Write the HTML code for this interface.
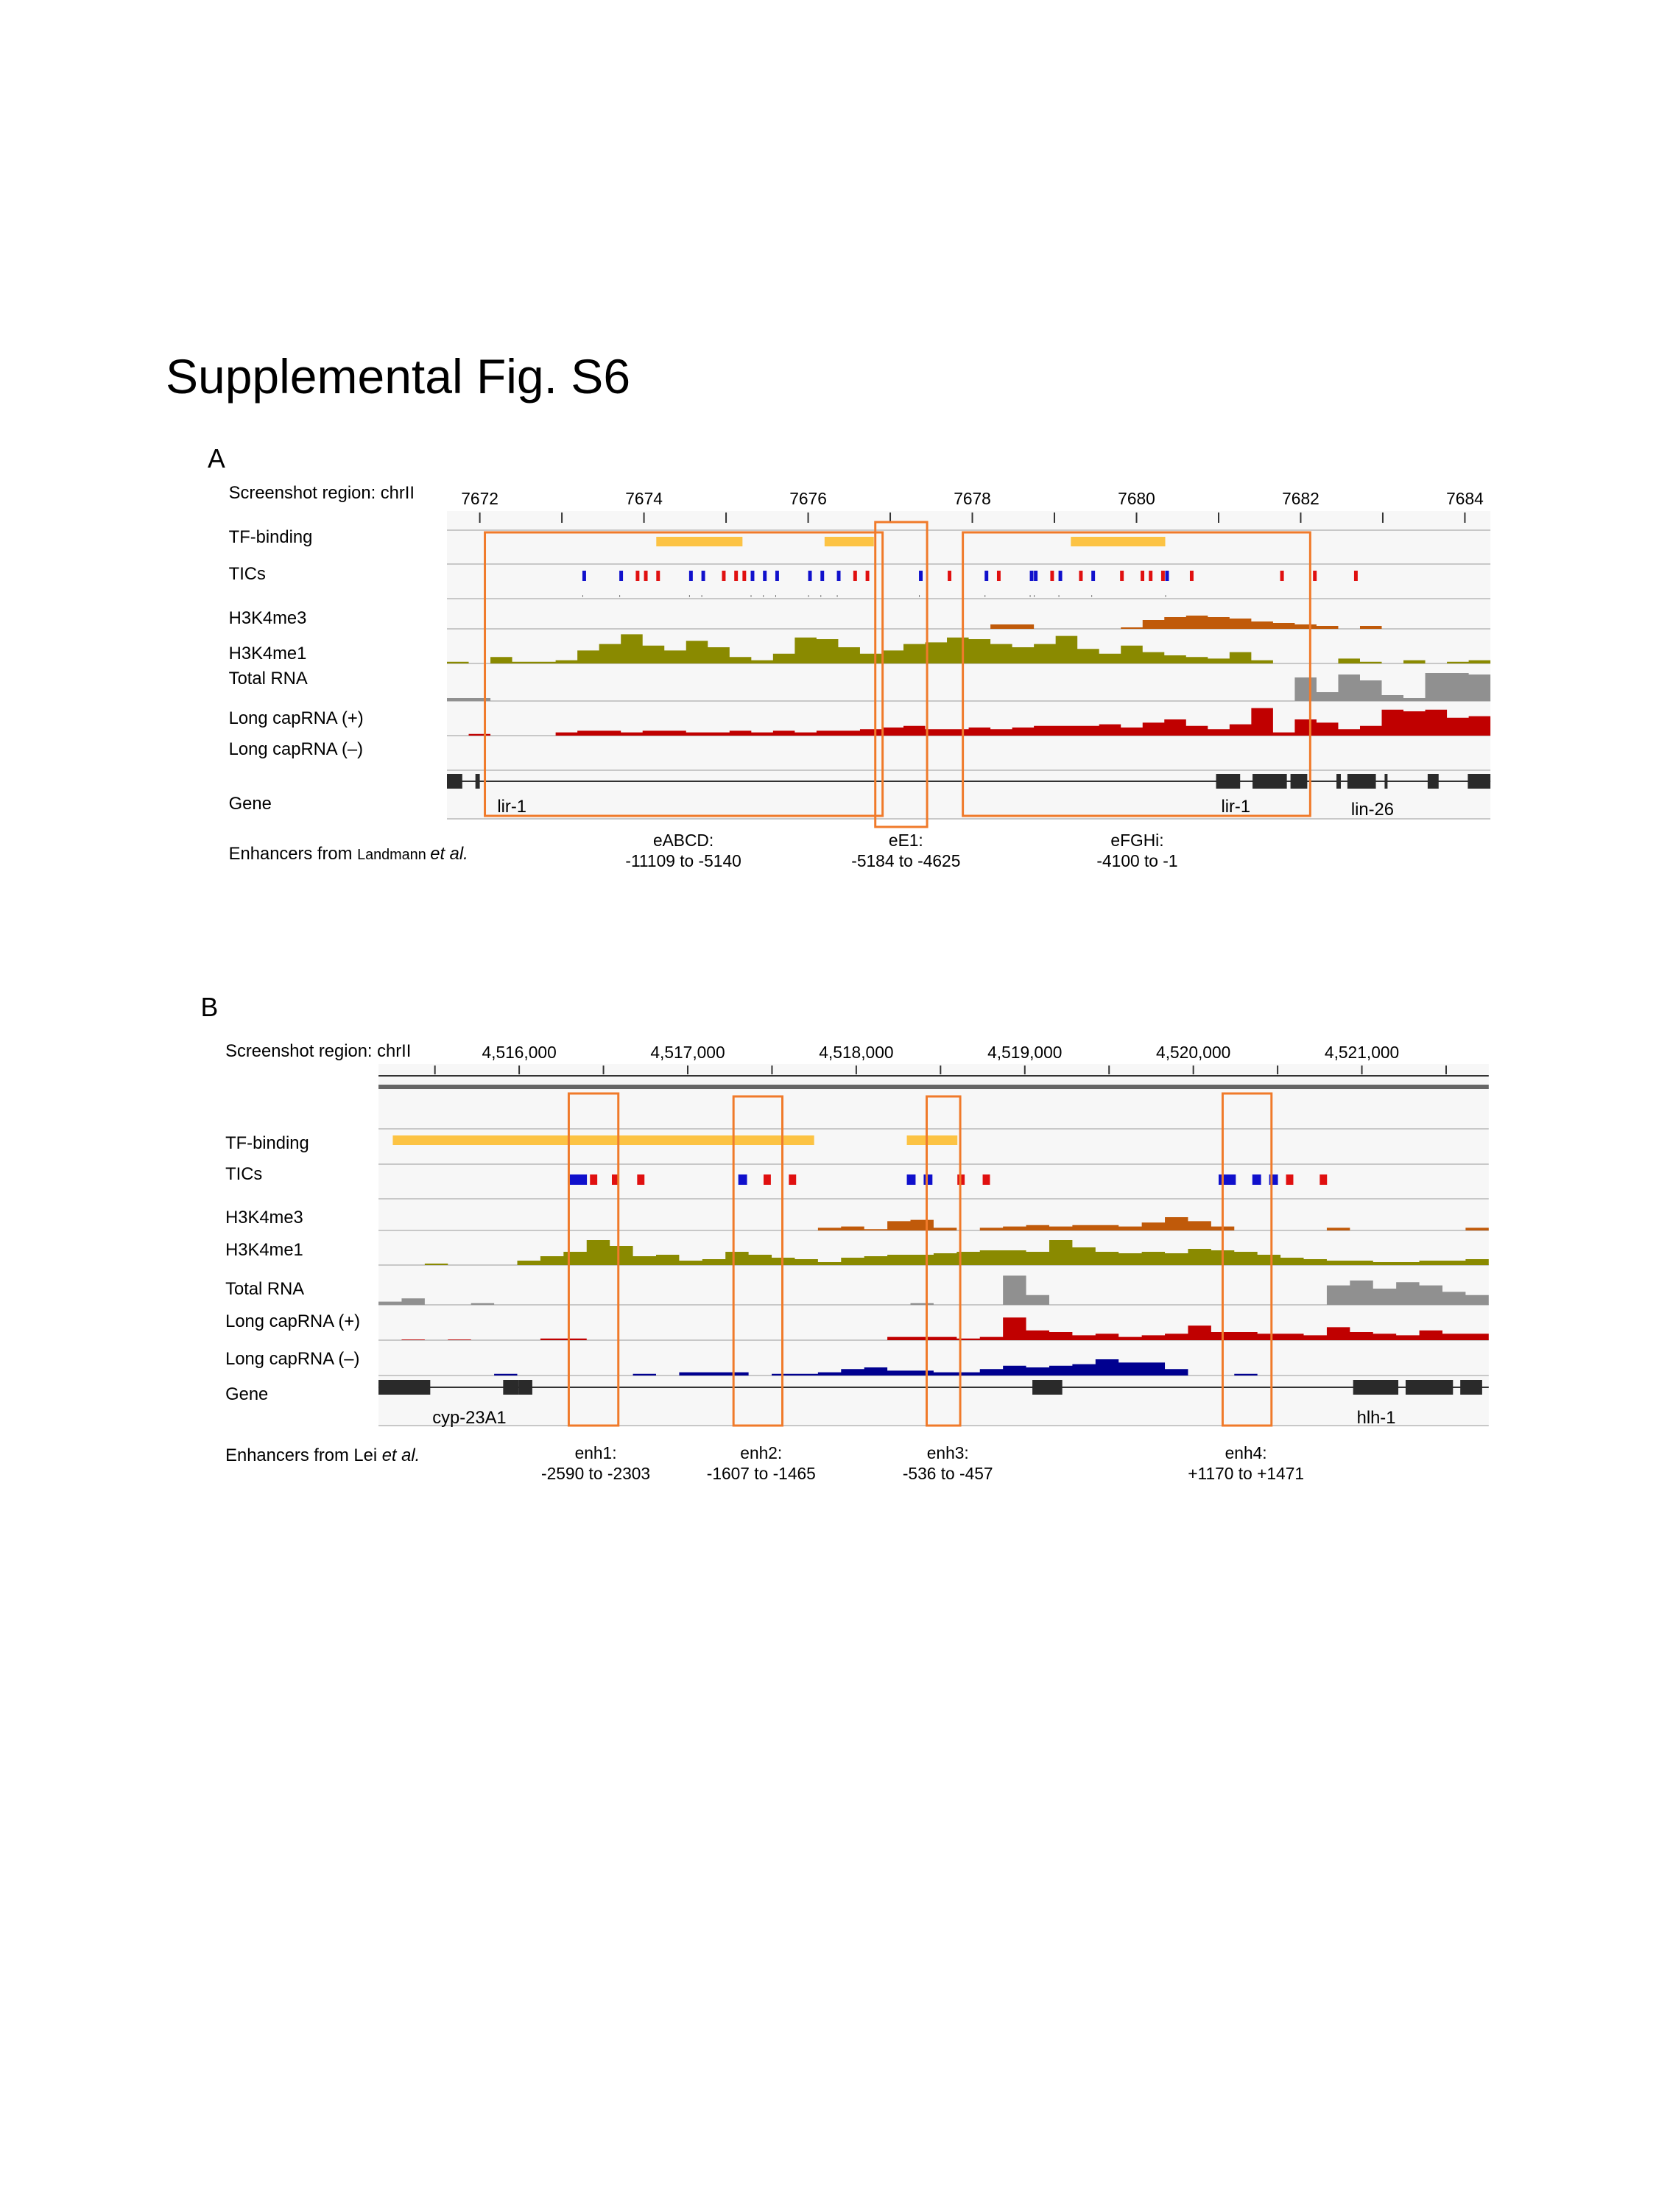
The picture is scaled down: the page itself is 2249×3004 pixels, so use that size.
<!DOCTYPE html>
<html><head><meta charset="utf-8"><style>
body{margin:0;background:#fff;}
svg text{font-family:"Liberation Sans",sans-serif;}
</style></head><body>
<svg id="fig" width="2249" height="2999" xmlns="http://www.w3.org/2000/svg">
<rect width="2249" height="2999" fill="#fff"/>
<text x="225" y="534" font-size="66">Supplemental Fig. S6</text>
<g transform="translate(1.5,-5) scale(0.991,1)"><g id="A"></g></g>
<g transform="translate(3.2,-1) scale(0.99,1)"><g id="B"></g></g>
</svg>
<script>
// ---------- DATA ----------
const aTicks=[7672,7674,7676,7678,7680,7682,7684];
const aTF=[[7674.15,7675.2],[7676.2,7676.8],[7679.2,7680.35]];
const aTicBlue=[7673.25,7673.7,7674.55,7674.7,7675.3,7675.45,7675.6,7676,7676.15,7676.35,7677.35,7678.15,7678.7,7678.75,7679.05,7679.45,7680.35];
const aTicRed=[7673.9,7674.0,7674.15,7674.95,7675.1,7675.2,7676.55,7676.7,7677.7,7678.3,7678.95,7679.3,7679.8,7680.05,7680.15,7680.3,7680.65,7681.75,7682.15,7682.65];
const aK4me3=[0,0,0,0,0,0,0,0,0,0,0,0,0,0,0,0,0,0,0,0,0,0,0,0,0,0.15,0.15,0,0,0,0,0.05,0.3,0.4,0.45,0.4,0.35,0.25,0.2,0.15,0.1,0,0.1,0,0,0,0,0];
const aK4me1=[0.05,0,0.2,0.05,0.05,0.1,0.4,0.6,0.9,0.55,0.4,0.7,0.5,0.2,0.1,0.3,0.8,0.75,0.5,0.3,0.4,0.6,0.65,0.8,0.75,0.6,0.5,0.6,0.85,0.45,0.3,0.55,0.35,0.25,0.2,0.15,0.35,0.1,0,0,0,0.15,0.05,0,0.1,0,0.05,0.1];
const aTotal=[0.1,0.1,0,0,0,0,0,0,0,0,0,0,0,0,0,0,0,0,0,0,0,0,0,0,0,0,0,0,0,0,0,0,0,0,0,0,0,0,0,0.8,0.3,0.9,0.7,0.2,0.1,0.95,0.95,0.9];
const aCapP=[0,0.05,0,0,0,0.1,0.15,0.15,0.1,0.15,0.15,0.1,0.1,0.15,0.1,0.15,0.1,0.15,0.15,0.2,0.25,0.3,0.2,0.2,0.25,0.2,0.25,0.3,0.3,0.3,0.35,0.25,0.4,0.5,0.3,0.2,0.35,0.85,0.1,0.5,0.4,0.2,0.3,0.8,0.75,0.8,0.55,0.6];
const bTicks=[4516000,4517000,4518000,4519000,4520000,4521000];
const bTF=[[4515250,4517750],[4518300,4518600]];
const bTicBlue=[4516300,4516350,4517300,4518300,4518400,4520150,4520200,4520350,4520450];
const bTicRed=[4516420,4516550,4516700,4517450,4517600,4518600,4518750,4520550,4520750];
const bK4me3=[0,0,0,0,0,0,0,0,0,0,0,0,0,0,0,0,0,0,0,0.1,0.15,0.05,0.35,0.4,0.1,0,0.1,0.15,0.2,0.15,0.2,0.2,0.15,0.3,0.5,0.35,0.15,0,0,0,0,0.1,0,0,0,0,0,0.1];
const bK4me1=[0,0,0.05,0,0,0,0.15,0.3,0.45,0.85,0.65,0.3,0.35,0.15,0.2,0.45,0.35,0.25,0.2,0.1,0.25,0.3,0.35,0.35,0.4,0.45,0.5,0.5,0.45,0.85,0.6,0.45,0.4,0.45,0.4,0.55,0.5,0.45,0.35,0.25,0.2,0.15,0.15,0.1,0.1,0.15,0.15,0.2];
const bTotal=[0.1,0.2,0,0,0.05,0,0,0,0,0,0,0,0,0,0,0,0,0,0,0,0,0,0,0.05,0,0,0,0.9,0.3,0,0,0,0,0,0,0,0,0,0,0,0,0.6,0.75,0.5,0.7,0.6,0.4,0.3];
const bCapP=[0,0.02,0,0.02,0,0,0,0.05,0.05,0,0,0,0,0,0,0,0,0,0,0,0,0,0.1,0.1,0.1,0.05,0.1,0.7,0.3,0.25,0.15,0.2,0.1,0.15,0.2,0.45,0.25,0.25,0.2,0.2,0.15,0.4,0.25,0.2,0.15,0.3,0.2,0.2];
const bCapM=[0,0,0,0,0,0.05,0,0,0,0,0,0.05,0,0.1,0.1,0.1,0,0.05,0.05,0.1,0.2,0.25,0.15,0.15,0.1,0.1,0.2,0.3,0.25,0.3,0.35,0.5,0.4,0.4,0.2,0,0,0.05,0,0,0,0,0,0,0,0,0,0];

const NS='http://www.w3.org/2000/svg';
function mk(parent,tag,attrs,txt){const e=document.createElementNS(NS,tag);for(const k in attrs)e.setAttribute(k,attrs[k]);if(txt!==undefined)e.textContent=txt;parent.appendChild(e);return e;}
function area(g,vals,x0,x1,base,h,color,name){
  const w=(x1-x0)/vals.length;let d='M'+x0+' '+base;
  vals.forEach((v,i)=>{const y=base-v*h;d+=' L'+(x0+i*w)+' '+y+' L'+(x0+(i+1)*w)+' '+y;});
  d+=' L'+x1+' '+base+' Z';
  const p=mk(g,'path',{d:d,fill:color});
  
  
}
function label(g,x,y,t,name,size){const e=mk(g,'text',{x:x,y:y,'font-size':size||24},t);return e;}

// ---------- PANEL A ----------
(function(){
const g=document.getElementById('A');
const X0=611,X1=2041;const sx=v=>656+(v-7672)*(2006-656)/12;
label(g,283,640,'A','panel-a-label',36);
mk(g,'rect',{x:X0,y:699,width:X1-X0,height:418,fill:'#f7f7f7'});
aTicks.forEach(t=>{const e=label(g,sx(t),690,String(t),'x-tick-label',23);e.setAttribute('text-anchor','middle');});
for(let t=7672;t<=7684;t++){const l=mk(g,'line',{x1:sx(t),x2:sx(t),y1:701,y2:715,stroke:'#333','stroke-width':2});}
[725,771,818,859,906,957,1004,1051,1117].forEach(y=>mk(g,'line',{x1:X0,x2:X1,y1:y,y2:y,stroke:'#c8c8c8','stroke-width':2}));
const labs=[[682,'Screenshot region: chrII'],[742,'TF-binding'],[792,'TICs'],[852,'H3K4me3'],[900,'H3K4me1'],[934,'Total RNA'],[988,'Long capRNA (+)'],[1030,'Long capRNA (–)'],[1104,'Gene']];
labs.forEach(l=>label(g,312,l[0],l[1],'track-label'));
const en=label(g,312,1172,'Enhancers from ','enhancer-source-label');
mk(en,'tspan',{'font-size':20},'Landmann ');mk(en,'tspan',{'font-style':'italic'},'et al.');
aTF.forEach(r=>{const e=mk(g,'rect',{x:sx(r[0]),y:734,width:sx(r[1])-sx(r[0]),height:13,fill:'#fcc344'});});
aTicBlue.forEach(v=>{const e=mk(g,'rect',{x:sx(v),y:780,width:5,height:14,fill:'#1010cc'});mk(g,'rect',{x:sx(v),y:813,width:1,height:3,fill:'#777'});});
aTicRed.forEach(v=>{const e=mk(g,'rect',{x:sx(v),y:780,width:5,height:14,fill:'#e01010'});});
area(g,aK4me3,X0,X1,859,40,'#c05a0a','h3k4me3-signal');
area(g,aK4me1,X0,X1,906,44,'#8a8a00','h3k4me1-signal');
area(g,aTotal,X0,X1,957,40,'#909090','total-rna-signal');
area(g,aCapP,X0,X1,1004,44,'#c00000','capRNA-plus-signal');
mk(g,'line',{x1:X0,x2:X1,y1:1066,y2:1066,stroke:'#333','stroke-width':2});
[[611,632],[650,656],[1665,1698],[1715,1762],[1767,1790],[1830,1836],[1845,1884],[1896,1900],[1955,1970],[2010,2041]].forEach(b=>{const e=mk(g,'rect',{x:b[0],y:1056,width:b[1]-b[0],height:20,fill:'#2a2a2a'});});
label(g,680,1108,'lir-1','gene-name');label(g,1672,1108,'lir-1','gene-name');label(g,1850,1112,'lin-26','gene-name');
[[663,728,545,385],[1198,714,71,414],[1318,728,476,385]].forEach(b=>{const e=mk(g,'rect',{x:b[0],y:b[1],width:b[2],height:b[3],fill:'none',stroke:'#f07a2a','stroke-width':3});});
[[935,'eABCD:','-11109 to -5140'],[1240,'eE1:','-5184 to -4625'],[1557,'eFGHi:','-4100 to -1']].forEach(t=>{let e=label(g,t[0],1154,t[1],'enhancer-name',23);e.setAttribute('text-anchor','middle');e=label(g,t[0],1182,t[2],'enhancer-range',23);e.setAttribute('text-anchor','middle');});
})();

// ---------- PANEL B ----------
(function(){
const g=document.getElementById('B');
const X0=516,X1=2039;const sx=v=>709+(v-4516000)*(1865-709)/5000;
label(g,272,1381,'B','panel-b-label',36);
mk(g,'rect',{x:X0,y:1446,width:X1-X0,height:491,fill:'#f7f7f7'});
bTicks.forEach(t=>{const e=label(g,sx(t),1438,t.toLocaleString('en-US'),'x-tick-label',23);e.setAttribute('text-anchor','middle');});
for(let t=4515500;t<=4521600;t+=500){const l=mk(g,'line',{x1:sx(t),x2:sx(t),y1:1448,y2:1460,stroke:'#333','stroke-width':2});}
mk(g,'line',{x1:X0,x2:X1,y1:1462,y2:1462,stroke:'#333','stroke-width':2});
mk(g,'rect',{x:X0,y:1474,width:X1-X0,height:6,fill:'#666'});
[1534,1582,1629,1672,1719,1773,1821,1869,1937].forEach(y=>mk(g,'line',{x1:X0,x2:X1,y1:y,y2:y,stroke:'#c8c8c8','stroke-width':2}));
const labs=[[1436,'Screenshot region: chrII'],[1561,'TF-binding'],[1603,'TICs'],[1662,'H3K4me3'],[1706,'H3K4me1'],[1759,'Total RNA'],[1803,'Long capRNA (+)'],[1854,'Long capRNA (–)'],[1902,'Gene']];
labs.forEach(l=>label(g,306,l[0],l[1],'track-label'));
const en=label(g,306,1985,'Enhancers from Lei ','enhancer-source-label');
mk(en,'tspan',{'font-style':'italic'},'et al.');
bTF.forEach(r=>{const e=mk(g,'rect',{x:sx(r[0]),y:1543,width:sx(r[1])-sx(r[0]),height:13,fill:'#fcc344'});});
bTicBlue.forEach(v=>{const e=mk(g,'rect',{x:sx(v),y:1596,width:12,height:14,fill:'#1010cc'});});
bTicRed.forEach(v=>{const e=mk(g,'rect',{x:sx(v),y:1596,width:10,height:14,fill:'#e01010'});});
area(g,bK4me3,X0,X1,1672,36,'#c05a0a','h3k4me3-signal');
area(g,bK4me1,X0,X1,1719,40,'#8a8a00','h3k4me1-signal');
area(g,bTotal,X0,X1,1773,44,'#909090','total-rna-signal');
area(g,bCapP,X0,X1,1821,44,'#c00000','capRNA-plus-signal');
area(g,bCapM,X0,X1,1869,44,'#000090','capRNA-minus-signal');
mk(g,'line',{x1:X0,x2:X1,y1:1885,y2:1885,stroke:'#333','stroke-width':2});
[[516,587],[687,708],[708,727],[1413,1454],[1853,1915],[1925,1990],[2000,2030]].forEach(b=>{const e=mk(g,'rect',{x:b[0],y:1875,width:b[1]-b[0],height:20,fill:'#2a2a2a'});});
label(g,590,1934,'cyp-23A1','gene-name');label(g,1858,1934,'hlh-1','gene-name');
[[777,1486,68,451],[1003,1490,67,447],[1268,1490,46,447],[1674,1486,67,451]].forEach(b=>{const e=mk(g,'rect',{x:b[0],y:b[1],width:b[2],height:b[3],fill:'none',stroke:'#f07a2a','stroke-width':3});});
[[814,'enh1:','-2590 to -2303'],[1041,'enh2:','-1607 to -1465'],[1297,'enh3:','-536 to -457'],[1706,'enh4:','+1170 to +1471']].forEach(t=>{let e=label(g,t[0],1982,t[1],'enhancer-name',23);e.setAttribute('text-anchor','middle');e=label(g,t[0],2010,t[2],'enhancer-range',23);e.setAttribute('text-anchor','middle');});
})();
</script>
</body></html>
